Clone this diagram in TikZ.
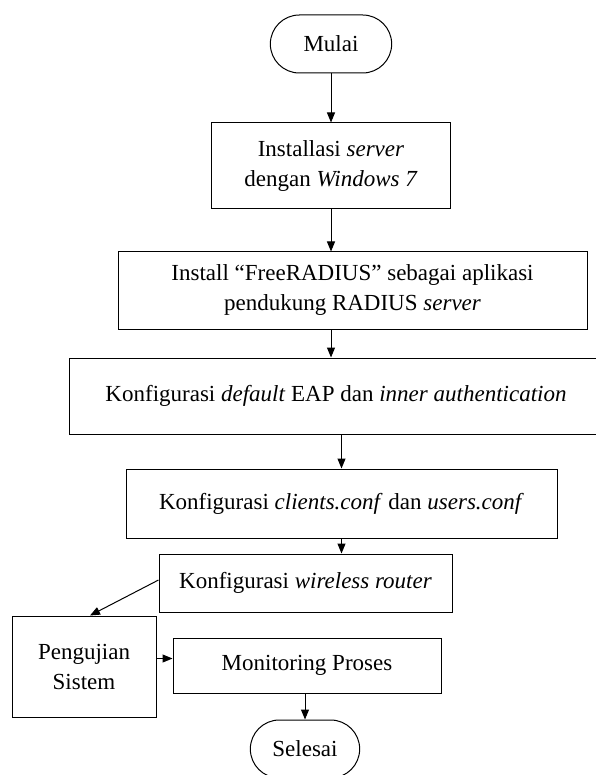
\documentclass[tikz,border=0pt]{standalone}
\usepackage{fontspec}
\setmainfont{Liberation Serif}
\usetikzlibrary{positioning, arrows.meta, shapes.misc}

\begin{document}
\begin{tikzpicture}[
  x=1pt, y=-1pt,
  every node/.style={font=\fontsize{23}{30}\selectfont, align=center},
  terminal/.style={rounded rectangle, draw, line width=1pt},
  proses/.style={draw, rectangle, line width=1pt},
  panah/.style={-{Triangle[length=10pt, width=8pt]}, line width=1pt}
]
\useasboundingbox (0,0) rectangle (595,775);

% Start
\node[terminal, minimum width=128pt, minimum height=58pt] (mulai) at (331,44) {Mulai};

% Install steps
\node[proses, minimum width=239pt, minimum height=86pt] (install) at (331,166) {Installasi \textit{server}\\dengan \textit{Windows 7}};
\node[proses, minimum width=469pt, minimum height=77pt] (freeradius) at (352.5,290.5) {Install “FreeRADIUS” sebagai aplikasi\\pendukung RADIUS \textit{server}};
\draw[panah] (mulai.south) -- (install.north);
\draw[panah] (install.south) -- (install.south |- freeradius.north);

% Configuration steps
\node[proses, minimum width=534pt, minimum height=76pt] (eap) at (336,396) {Konfigurasi \textit{default} EAP dan \textit{inner authentication}};
\node[proses, minimum width=431pt, minimum height=69pt] (conf) at (341.5,503.5) {Konfigurasi \textit{clients.conf} dan \textit{users.conf}};
\node[proses, minimum width=293pt, minimum height=58pt] (router) at (305.5,583) {Konfigurasi \textit{wireless router}};
\draw[panah] (install.south |- freeradius.south) -- (install.south |- eap.north);
\draw[panah] (conf.north |- eap.south) -- (conf.north);
\draw[panah] (conf.south) -- (conf.south |- router.north);

% Testing and monitoring
\node[proses, minimum width=144pt, minimum height=101pt] (uji) at (84,666.5) {Pengujian\\Sistem};
\node[proses, minimum width=268pt, minimum height=55pt] (monitor) at (307,665.5) {Monitoring Proses};
\draw[panah] ([yshift=3pt]router.west) -- ([xshift=6pt]uji.north);
\draw[panah] ([yshift=8pt]uji.east) -- ([yshift=8pt]uji.east -| monitor.west);

% End
\node[terminal, minimum width=116pt, minimum height=58pt] (selesai) at (305,749) {Selesai};
\draw[panah] (selesai.north |- monitor.south) -- (selesai.north);

\end{tikzpicture}
\end{document}
